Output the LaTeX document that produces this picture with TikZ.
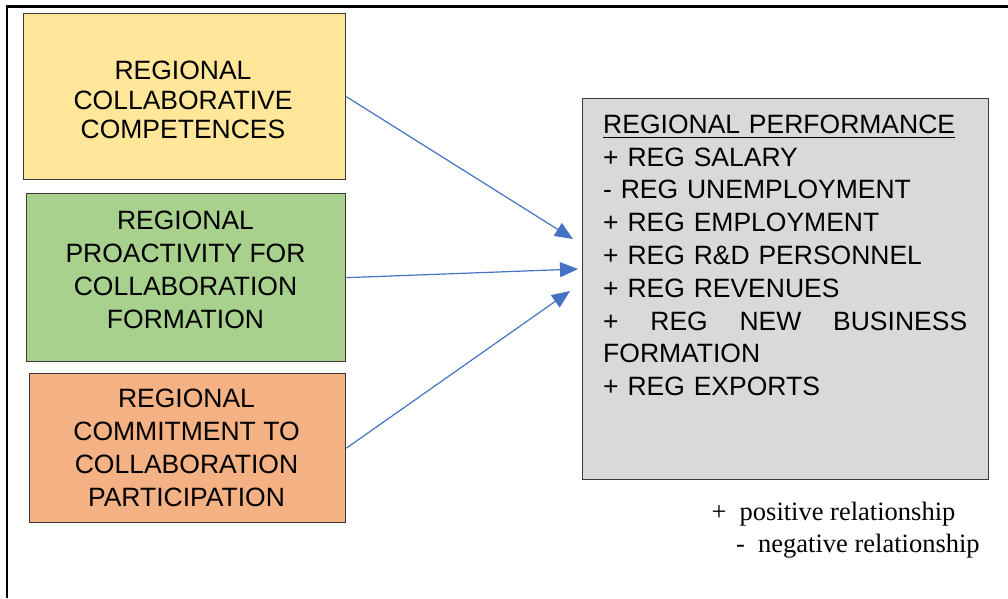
\documentclass[tikz,border=0pt]{standalone}
\usepackage{fontspec}
\setmainfont{Liberation Sans}
\newfontfamily\legendfont{Liberation Serif}
\usetikzlibrary{arrows.meta}

\definecolor{boxyellow}{HTML}{FFE699}
\definecolor{boxgreen}{HTML}{A9D18E}
\definecolor{boxorange}{HTML}{F4B183}
\definecolor{boxgrey}{HTML}{D9D9D9}
\definecolor{edgegrey}{HTML}{3A3A3A}
\definecolor{linkblue}{HTML}{4472C4}

% heading underline, placed like a word-processor underline
\newsavebox\headbox
\newcommand\headul[1]{\sbox\headbox{#1}\rlap{\rule[-5.1pt]{\wd\headbox}{1.4pt}}\usebox\headbox}

\begin{document}
\begin{tikzpicture}[x=1pt,y=-1pt,
  factor/.style={draw=edgegrey, line width=1.3pt, inner sep=0pt, anchor=north west},
  boxtext/.style={align=center, inner sep=0pt},
  link/.style={draw=linkblue, line width=1.2pt, -{Triangle[length=18pt,width=15pt]}},
  legend/.style={anchor=base west, inner sep=0pt, font=\legendfont\fontsize{26.5}{30}\selectfont}
]
\useasboundingbox (0,0) rectangle (1008,598);

% outer frame (left and top edges)
\draw[line width=2.2pt, black] (7,598) -- (7,6.5) -- (1008,6.5);

% factor boxes
\node[factor, fill=boxyellow, minimum width=322pt, minimum height=166pt] (yellow) at (23,13) {};
\node[factor, fill=boxgreen,  minimum width=319pt, minimum height=168pt] (green)  at (26,193) {};
\node[factor, fill=boxorange, minimum width=316pt, minimum height=149pt] (orange) at (29,373) {};
\node[factor, fill=boxgrey,   minimum width=406pt, minimum height=381pt] (perf)   at (582,98) {};

% box texts
\node[boxtext, font=\fontsize{26.5}{29.7}\selectfont] (yellowtext) at (183,100)
  {REGIONAL\\COLLABORATIVE\\COMPETENCES};
\node[boxtext, font=\fontsize{26.5}{33}\selectfont] (greentext) at (185.5,270)
  {REGIONAL\\PROACTIVITY FOR\\COLLABORATION\\FORMATION};
\node[boxtext, font=\fontsize{26.5}{32.8}\selectfont] (orangetext) at (186.5,448)
  {REGIONAL\\COMMITMENT TO\\COLLABORATION\\PARTICIPATION};

\node[anchor=base west, text width=364pt, align=left, inner sep=0pt,
      font=\fontsize{26.5}{32.8}\selectfont] (perftext) at (603,133.3)
  {\headul{REGIONAL PERFORMANCE}\\
   + REG SALARY\\
   - REG UNEMPLOYMENT\\
   + REG EMPLOYMENT\\
   + REG R\&D PERSONNEL\\
   + REG REVENUES\\
   +\hfill REG\hfill NEW\hfill BUSINESS\\
   FORMATION\\
   + REG EXPORTS};

% arrows into the performance box
\coordinate (tipA) at (573,239);
\coordinate (tipB) at (578,269);
\coordinate (tipC) at (570,291);
\draw[link] (yellow.east) -- (tipA);
\draw[link] (green.east)  -- (tipB);
\draw[link] (orange.east) -- (tipC);

% legend
\node[legend] (legpos) at (711.5,520.5) {\makebox[28pt][l]{+}positive relationship};
\node[legend] (legneg) at (736,552.5) {\makebox[22pt][l]{-}negative relationship};
\end{tikzpicture}
\end{document}
